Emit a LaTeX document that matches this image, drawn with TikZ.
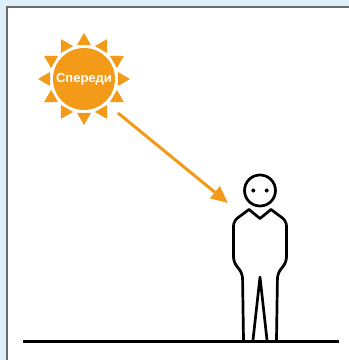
\documentclass[tikz,border=0pt]{standalone}
\usepackage{fontspec}
\setmainfont{Liberation Sans}
\usetikzlibrary{arrows.meta}
\definecolor{sunorange}{HTML}{F39A18}
\definecolor{panelblue}{HTML}{DDEFFA}
\definecolor{framegray}{HTML}{6B6B6B}
\begin{document}
\begin{tikzpicture}[x=1pt,y=-1pt,
  sunray/.style={fill=sunorange},
  outline/.style={line width=2.7pt, line join=round, line cap=round},
  beamline/.style={draw=sunorange, line width=3pt, -{Triangle[length=17pt,width=15pt]}},
  sunlabel/.style={text=white, font=\bfseries\fontsize{13}{13}\selectfont}]
\useasboundingbox (0,0) rectangle (349,360);
% panel background and frame
\fill[panelblue] (0,0) rectangle (349,360);
\fill[white] (7,7) rectangle (349,360);
\draw[framegray, line width=2pt] (7,360) -- (7,7) -- (349,7);

% sun with twelve triangular rays
\node[circle, fill=sunorange, minimum size=62pt, inner sep=0pt, sunlabel] (sun) at (84,79) {Спереди};
\foreach \a in {0,30,...,330}
  \fill[sunray] ([shift={(\a+11.6:34.7)}]sun.center) -- ([shift={(\a:46)}]sun.center)
     -- ([shift={(\a-11.6:34.7)}]sun.center) -- cycle;

% person
\node[circle, draw, outline, minimum size=31pt, inner sep=0pt] (head) at (260,190.5) {};
\fill ([xshift=-6.7pt]head.center) circle (2);
\fill ([xshift=6.7pt]head.center) circle (2);
\draw[outline] (249,209.5) -- (260,218.5) -- (271,209.5);
\draw[outline, rounded corners=5pt] (249,209.5) -- (233.5,221) -- (233.5,262)
   -- (242.5,273.5) -- (243.5,340);
\draw[outline] (253,340) -- (260,277) -- (267,340);
\draw[outline, rounded corners=5pt] (276.5,340) -- (277.5,273.5) -- (286.5,262)
   -- (286.5,221) -- (271,209.5);

% ground
\coordinate (groundL) at (23,341);
\coordinate (groundR) at (339,341);
\draw[line width=3pt] (groundL) -- (groundR);

% light beam towards the person
\coordinate (beamend) at (228,203);
\draw[beamline] ([shift={(45:48)}]sun.center) -- (beamend);
\end{tikzpicture}
\end{document}
